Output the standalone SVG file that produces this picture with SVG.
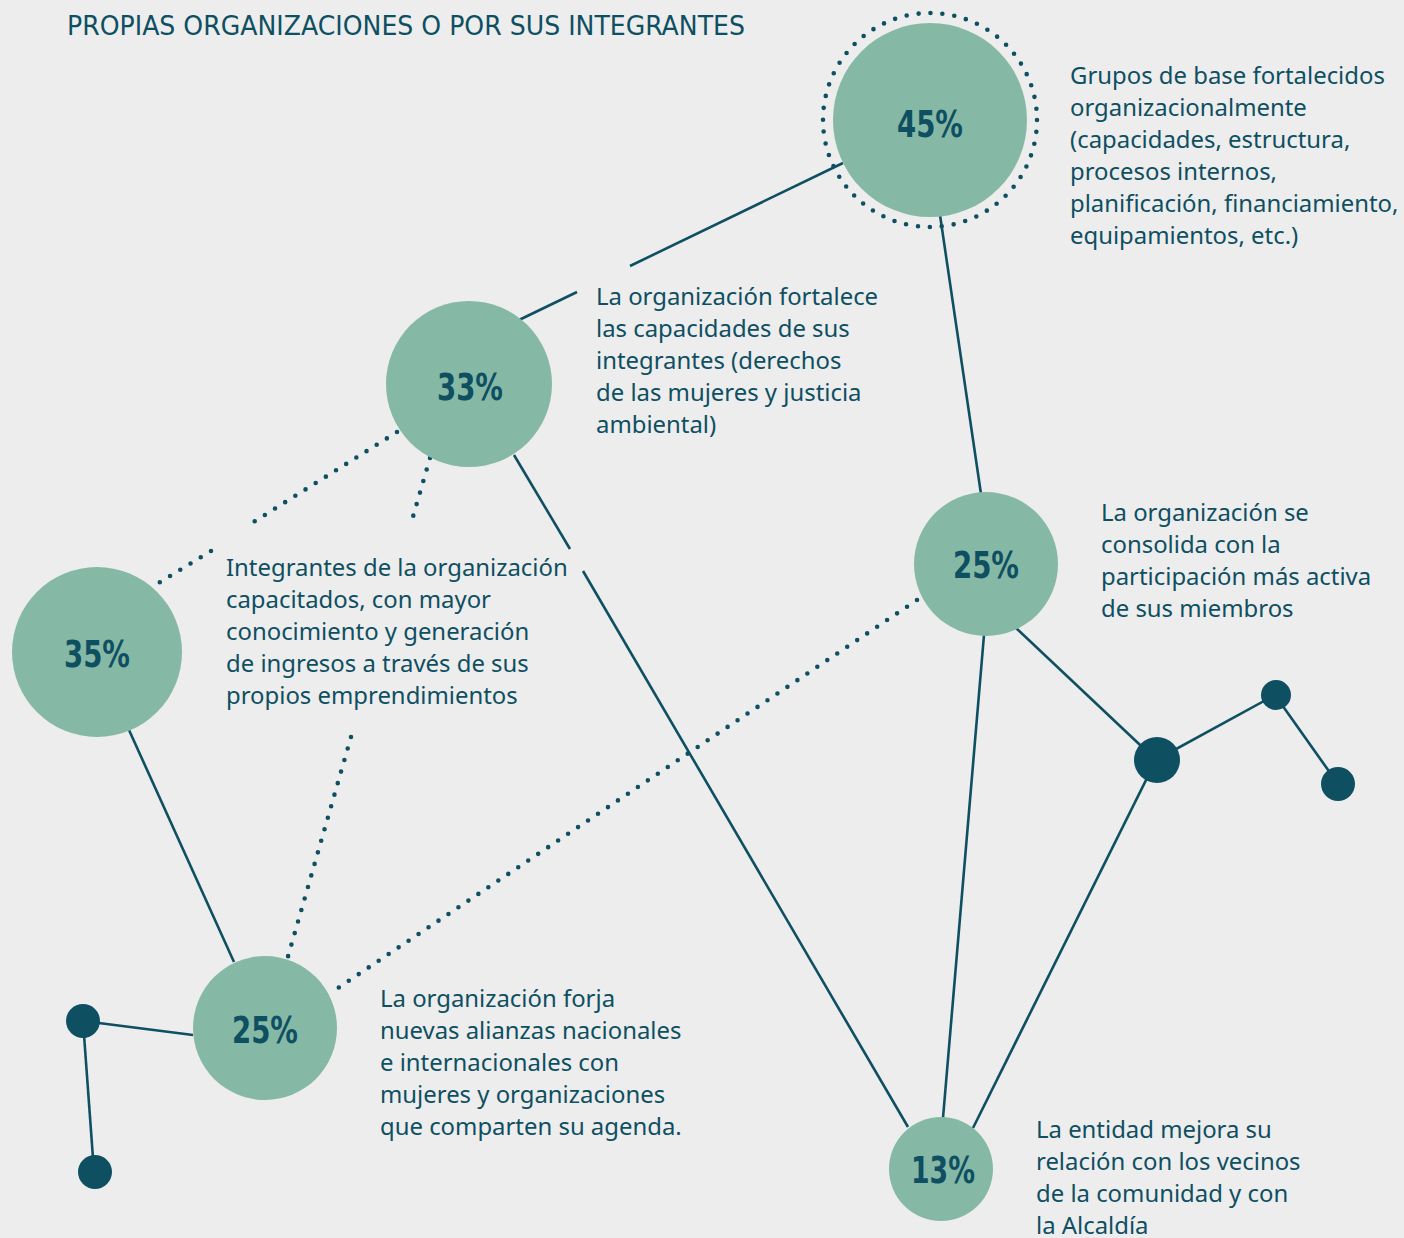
<svg xmlns="http://www.w3.org/2000/svg" width="1404" height="1238" viewBox="0 0 1404 1238">
<style>
.bg{fill:#ededed}
.ln{stroke:#0e4f62;stroke-width:2.6;fill:none;stroke-linecap:butt}
.dot{stroke:#0e4f62;stroke-width:4.6;fill:none;stroke-linecap:round;stroke-dasharray:0 12}
.big{fill:#86b9a5}
.sm{fill:#0e4f62}
.pct{font-family:"Liberation Sans Narrow","DejaVu Sans Condensed","Liberation Sans",sans-serif;font-weight:bold;font-size:38px;fill:#0e4f62;text-anchor:middle}
.tx{font-family:"Noto Sans","Open Sans",sans-serif;font-size:23.9px;fill:#0e4f62}
.title{font-family:"Liberation Sans Narrow","DejaVu Sans Condensed","Liberation Sans",sans-serif;font-size:27px;fill:#0e4f62}
</style>
<rect class="bg" x="0" y="0" width="1404" height="1238"/>
<text class="title" x="67" y="35" textLength="678" lengthAdjust="spacingAndGlyphs">PROPIAS ORGANIZACIONES O POR SUS INTEGRANTES</text>
<g id="connectors">
<line class="ln" x1="843" y1="163" x2="630" y2="266"/>
<line class="ln" x1="577" y1="292" x2="519" y2="320"/>
<line class="ln" x1="940" y1="215" x2="981" y2="494"/>
<line class="ln" x1="514" y1="455" x2="570" y2="549"/>
<line class="ln" x1="583" y1="571" x2="908" y2="1127"/>
<line class="ln" x1="984" y1="635" x2="943" y2="1118"/>
<line class="ln" x1="1016" y1="628" x2="1156" y2="760"/>
<line class="ln" x1="973" y1="1128" x2="1156" y2="760"/>
<line class="ln" x1="1156" y1="760" x2="1275" y2="695"/>
<line class="ln" x1="1275" y1="695" x2="1338" y2="784"/>
<line class="ln" x1="129" y1="730" x2="234" y2="962"/>
<line class="ln" x1="193" y1="1035" x2="83" y2="1021"/>
<line class="ln" x1="83" y1="1021" x2="94" y2="1172"/>
<line class="dot" x1="397" y1="432" x2="252" y2="523"/>
<line class="dot" x1="211" y1="551" x2="157" y2="584"/>
<line class="dot" x1="430" y1="458" x2="410" y2="527"/>
<line class="dot" x1="351" y1="737" x2="287" y2="960"/>
<line class="dot" x1="917" y1="600" x2="335" y2="990"/>
</g>
<g id="n45">
<circle cx="930" cy="120" r="107" fill="none" stroke="#0e4f62" stroke-width="4.6" stroke-linecap="round" stroke-dasharray="0 12.005"/>
<circle class="big" cx="930" cy="120" r="97"/>
<text class="pct" x="930" y="137" textLength="66" lengthAdjust="spacingAndGlyphs">45%</text>
</g>
<g id="n33">
<circle class="big" cx="469" cy="384" r="83"/>
<text class="pct" x="470" y="400" textLength="66" lengthAdjust="spacingAndGlyphs">33%</text>
</g>
<g id="n35">
<circle class="big" cx="97" cy="652" r="85"/>
<text class="pct" x="97" y="667" textLength="66" lengthAdjust="spacingAndGlyphs">35%</text>
</g>
<g id="n25a">
<circle class="big" cx="986" cy="564" r="72"/>
<text class="pct" x="986" y="578" textLength="66" lengthAdjust="spacingAndGlyphs">25%</text>
</g>
<g id="n25b">
<circle class="big" cx="265" cy="1028" r="72"/>
<text class="pct" x="265" y="1043" textLength="66" lengthAdjust="spacingAndGlyphs">25%</text>
</g>
<g id="n13">
<circle class="big" cx="941" cy="1169" r="52"/>
<text class="pct" x="943" y="1183" textLength="64" lengthAdjust="spacingAndGlyphs">13%</text>
</g>
<g id="d1"><circle class="sm" cx="1157" cy="760" r="23"/></g>
<g id="d2"><circle class="sm" cx="1276" cy="695" r="15"/></g>
<g id="d3"><circle class="sm" cx="1338" cy="784" r="17"/></g>
<g id="d4"><circle class="sm" cx="83" cy="1021" r="17"/></g>
<g id="d5"><circle class="sm" cx="95" cy="1172" r="17"/></g>
<g id="t45">
<text class="tx" x="1070" y="84">Grupos de base fortalecidos</text>
<text class="tx" x="1070" y="116">organizacionalmente</text>
<text class="tx" x="1070" y="148">(capacidades, estructura,</text>
<text class="tx" x="1070" y="180">procesos internos,</text>
<text class="tx" x="1070" y="212">planificación, financiamiento,</text>
<text class="tx" x="1070" y="244">equipamientos, etc.)</text>
</g>
<g id="t33">
<text class="tx" x="596" y="305">La organización fortalece</text>
<text class="tx" x="596" y="337">las capacidades de sus</text>
<text class="tx" x="596" y="369">integrantes (derechos</text>
<text class="tx" x="596" y="401">de las mujeres y justicia</text>
<text class="tx" x="596" y="433">ambiental)</text>
</g>
<g id="t35">
<text class="tx" x="226" y="576">Integrantes de la organización</text>
<text class="tx" x="226" y="608">capacitados, con mayor</text>
<text class="tx" x="226" y="640">conocimiento y generación</text>
<text class="tx" x="226" y="672">de ingresos a través de sus</text>
<text class="tx" x="226" y="704">propios emprendimientos</text>
</g>
<g id="t25a">
<text class="tx" x="1101" y="521">La organización se</text>
<text class="tx" x="1101" y="553">consolida con la</text>
<text class="tx" x="1101" y="585">participación más activa</text>
<text class="tx" x="1101" y="617">de sus miembros</text>
</g>
<g id="t25b">
<text class="tx" x="380" y="1007">La organización forja</text>
<text class="tx" x="380" y="1039">nuevas alianzas nacionales</text>
<text class="tx" x="380" y="1071">e internacionales con</text>
<text class="tx" x="380" y="1103">mujeres y organizaciones</text>
<text class="tx" x="380" y="1135">que comparten su agenda.</text>
</g>
<g id="t13">
<text class="tx" x="1036" y="1138">La entidad mejora su</text>
<text class="tx" x="1036" y="1170">relación con los vecinos</text>
<text class="tx" x="1036" y="1202">de la comunidad y con</text>
<text class="tx" x="1036" y="1234">la Alcaldía</text>
</g>
</svg>
